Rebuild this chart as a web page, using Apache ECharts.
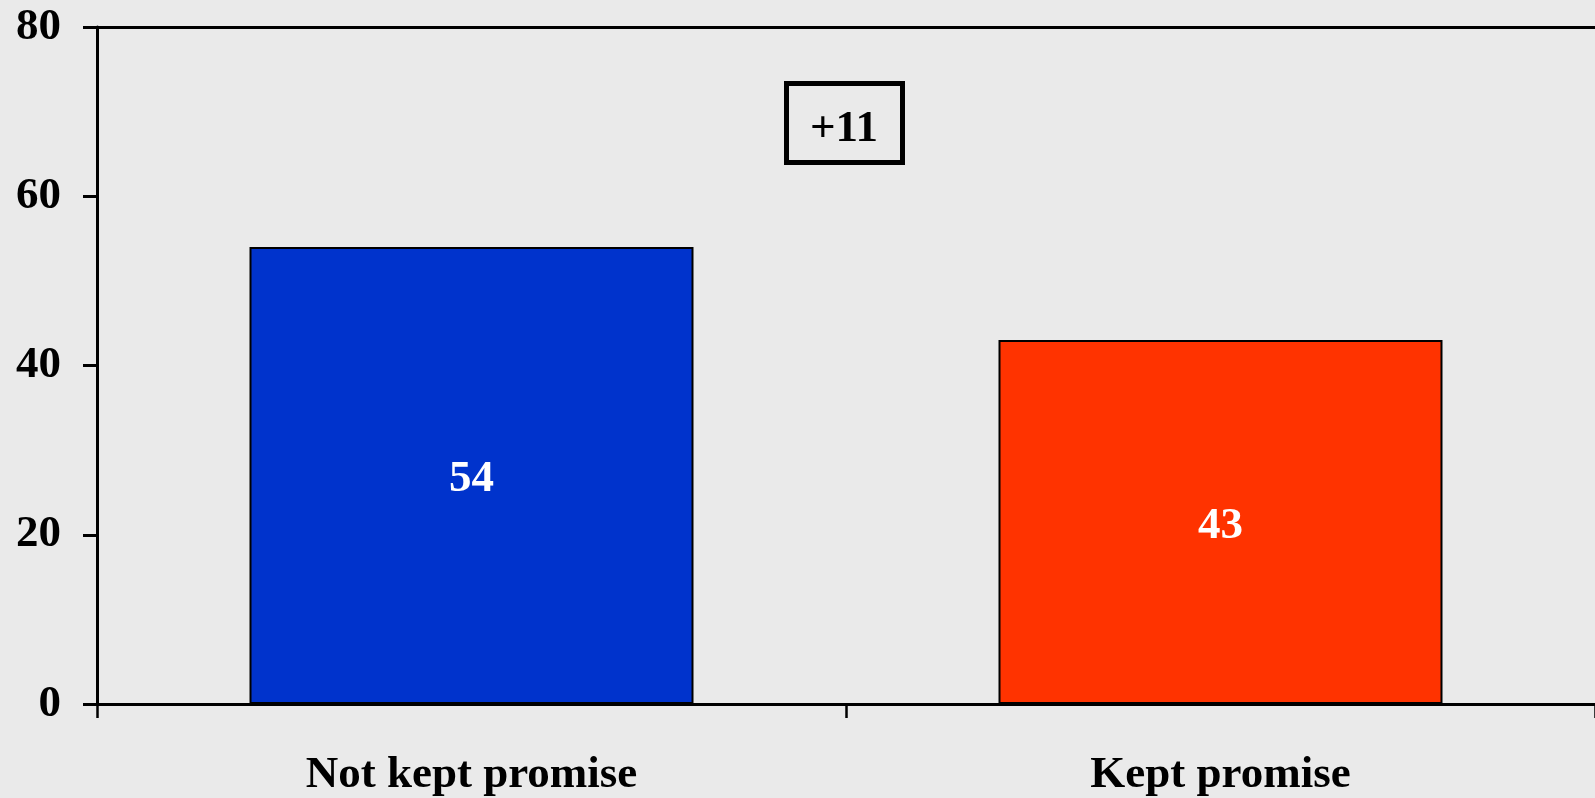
<!DOCTYPE html>
<html>
<head>
<meta charset="utf-8">
<script src="https://cdn.jsdelivr.net/npm/echarts@6/dist/echarts.min.js"></script>
<style>
html,body{margin:0;padding:0;background:#eaeaea;}
#chart{width:1595px;height:798px;}
</style>
</head>
<body>
<div id="chart"></div>
<script>
const categories = ['Not kept promise', 'Kept promise'];
const values = [54, 43];
const barColors = ['#0033cc', '#ff3300'];
const yTicks = [0, 20, 40, 60, 80];

const FONT = '"Liberation Serif", "Times New Roman", serif';
const diff = values[0] - values[1];
const diffLabel = (diff > 0 ? '+' : '') + diff;

const chart = echarts.init(document.getElementById('chart'), null, {renderer: 'canvas'});
chart.setOption({
  backgroundColor: '#eaeaea',
  animation: false,
  grid: {left: 97, right: -8, top: 27, bottom: 92, containLabel: false},
  xAxis: [{
    type: 'category',
    data: categories,
    position: 'bottom',
    axisLine: {lineStyle: {color: '#000', width: 3}},
    axisTick: {show: true, length: 14, lineStyle: {color: '#000', width: 2.5}, alignWithLabel: false},
    axisLabel: {color: '#000', fontFamily: FONT, fontWeight: 'bold', fontSize: 45, margin: 49},
    splitLine: {show: false}
  }, {
    type: 'category',
    data: categories,
    position: 'top',
    axisLine: {lineStyle: {color: '#000', width: 3}},
    axisTick: {show: false},
    axisLabel: {show: false},
    splitLine: {show: false}
  }],
  yAxis: {
    type: 'value',
    min: yTicks[0],
    max: yTicks[yTicks.length - 1],
    interval: yTicks[1] - yTicks[0],
    axisLine: {show: true, lineStyle: {color: '#000', width: 3}},
    axisTick: {show: true, length: 14, lineStyle: {color: '#000', width: 3}},
    axisLabel: {color: '#000', fontFamily: FONT, fontWeight: 'bold', fontSize: 45, margin: 36, padding: [6, 0, 0, 0]},
    splitLine: {show: false}
  },
  series: [{
    type: 'bar',
    xAxisIndex: 0,
    data: values.map((v, i) => ({value: v, itemStyle: {color: barColors[i]}})),
    barWidth: 444,
    itemStyle: {borderColor: '#000', borderWidth: 2},
    label: {
      show: true,
      position: 'inside',
      offset: [0, 4],
      color: '#fff',
      fontFamily: FONT,
      fontWeight: 'bold',
      fontSize: 45
    }
  }],
  graphic: [{
    type: 'group',
    left: 784,
    top: 81,
    children: [{
      type: 'rect',
      shape: {x: 2.5, y: 2.5, width: 116, height: 79},
      style: {fill: 'transparent', stroke: '#000', lineWidth: 5}
    }, {
      type: 'text',
      x: 60,
      y: 48,
      style: {
        text: diffLabel,
        fill: '#000',
        font: 'bold 45px ' + FONT,
        align: 'center',
        verticalAlign: 'middle'
      }
    }]
  }]
});
</script>
</body>
</html>
